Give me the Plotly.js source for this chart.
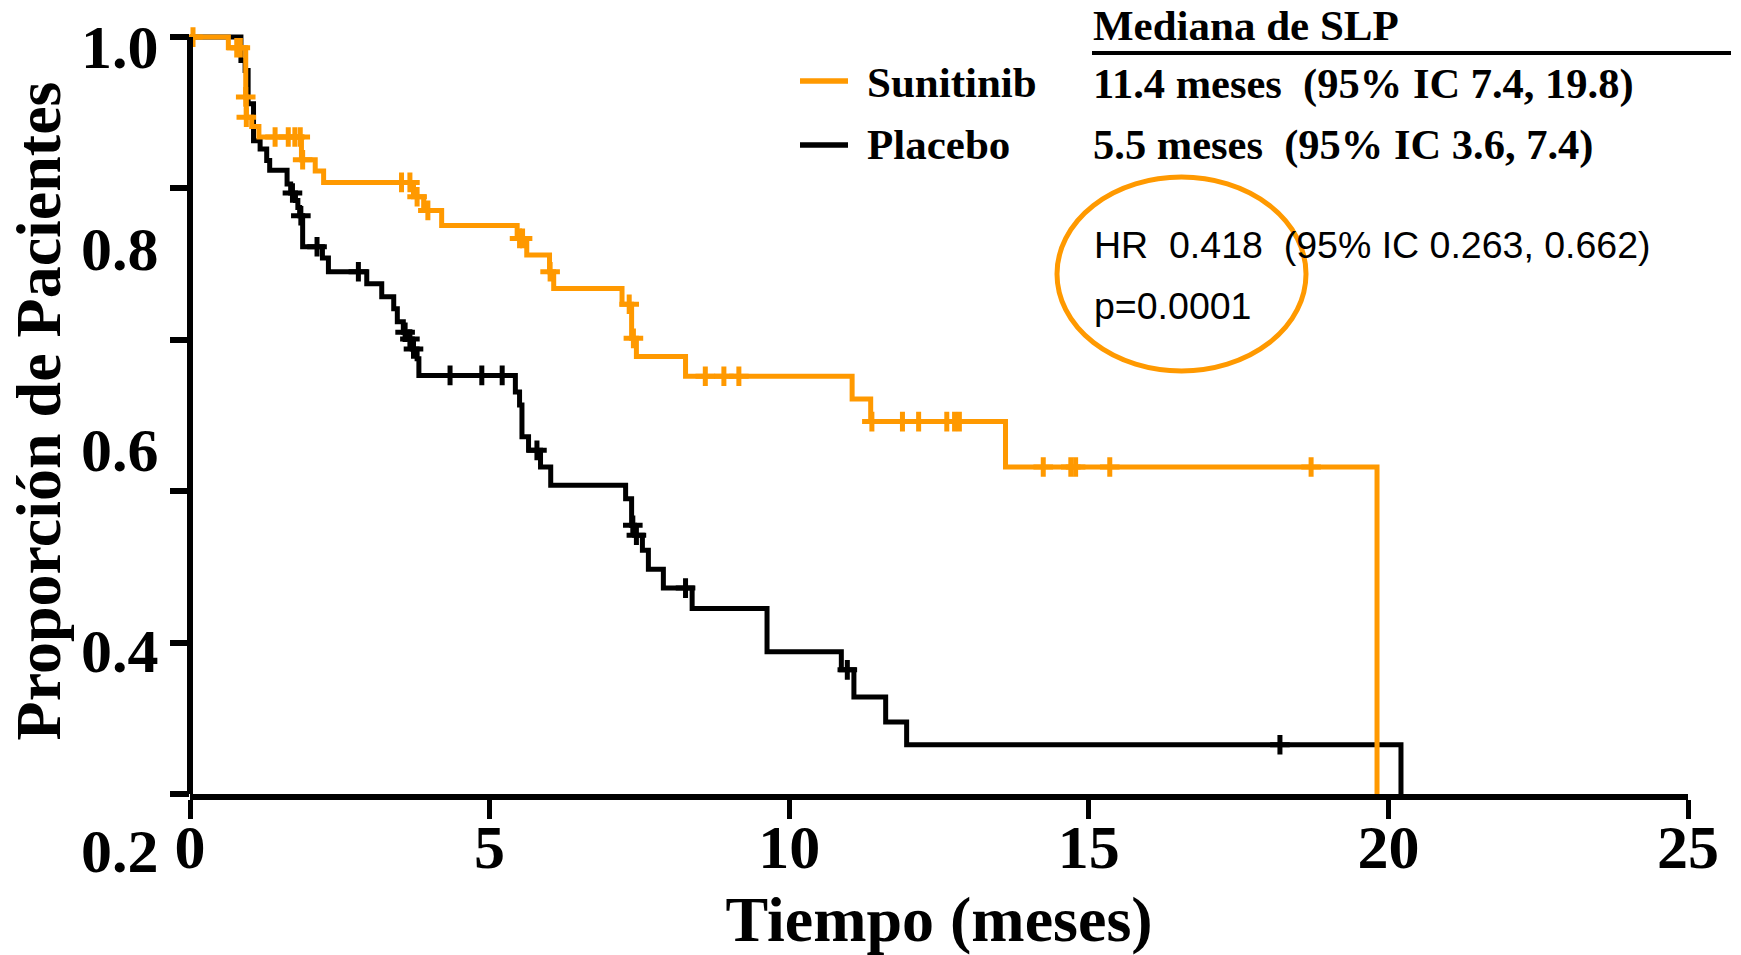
<!DOCTYPE html>
<html><head><meta charset="utf-8">
<script src="https://cdn.plot.ly/plotly-3.0.1.min.js"></script>
<style>html,body{margin:0;padding:0;background:#fff;}#chart{width:1741px;height:955px;}</style>
</head><body><div id="chart"></div>
<script>
// ---- data ----
const seriesNames = ['Sunitinib', 'Placebo'];
const sunitinibTimes = [0, 0.64, 0.93, 0.94, 1.03, 1.15, 1.86, 2.09, 2.23, 3.73, 3.90, 4.20, 5.46, 5.62, 6.00, 6.07, 7.21, 7.37, 7.45, 8.27, 11.05, 11.36, 13.61, 19.81];
const sunitinibSurv  = [1.0, 0.986, 0.921, 0.894, 0.882, 0.868, 0.838, 0.823, 0.808, 0.789, 0.771, 0.751, 0.734, 0.712, 0.690, 0.668, 0.647, 0.602, 0.578, 0.552, 0.522, 0.492, 0.432, 0.0];
const sunitinibCensor = [0.05, 0.78, 0.84, 0.93, 0.94, 1.42, 1.64, 1.75, 1.84, 1.88, 3.53, 3.67, 3.79, 3.97, 5.50, 5.55, 6.01, 7.33, 7.40, 8.60, 8.91, 9.16, 11.38, 11.89, 12.16, 12.63, 12.76, 12.84, 14.24, 14.70, 14.78, 15.35, 18.71];
const placeboTimes = [0, 0.85, 0.92, 0.97, 1.06, 1.17, 1.28, 1.33, 1.62, 1.68, 1.76, 1.80, 1.83, 1.88, 2.21, 2.31, 2.95, 3.20, 3.40, 3.46, 3.56, 3.63, 3.71, 3.79, 3.82, 5.43, 5.50, 5.54, 5.65, 5.85, 6.02, 7.27, 7.37, 7.42, 7.55, 7.65, 7.90, 8.38, 9.63, 10.87, 11.08, 11.61, 11.96, 20.21];
const placeboSurv  = [1.0, 0.969, 0.956, 0.912, 0.863, 0.852, 0.837, 0.824, 0.806, 0.794, 0.784, 0.775, 0.764, 0.723, 0.708, 0.690, 0.674, 0.657, 0.641, 0.624, 0.610, 0.601, 0.588, 0.575, 0.553, 0.531, 0.514, 0.472, 0.454, 0.432, 0.408, 0.390, 0.355, 0.342, 0.322, 0.297, 0.272, 0.245, 0.188, 0.164, 0.128, 0.095, 0.065, 0.0];
const placeboCensor = [1.71, 1.85, 2.12, 2.81, 3.59, 3.67, 3.73, 4.34, 4.87, 5.21, 5.79, 7.39, 7.45, 8.27, 10.97, 18.19];
const xTickVals = [0, 5, 10, 15, 20, 25];
const yTickVals = [0, 0.2, 0.4, 0.6, 0.8, 1.0];
const yTickLabels = ['1.0', '0.8', '0.6', '0.4', '0.2'];
const xTitle = 'Tiempo (meses)';
const yTitle = 'Proporción de Pacientes';
const medianHeader = 'Mediana de SLP';
const medianTexts = ['11.4 meses  (95% IC 7.4, 19.8)', '5.5 meses  (95% IC 3.6, 7.4)'];
const hrText = 'HR  0.418  (95% IC 0.263, 0.662)';
const pText = 'p=0.0001';

// ---- styling / layout ----
const ORANGE = '#FF9900', BLACK = '#000000';
const SERIF = 'Liberation Serif, Times New Roman, serif';
const SANS = 'Liberation Sans, Arial, sans-serif';
const W = 1741, H = 955, L = 190, R = 53, T = 28, B = 161;
const Y_MAX = 1.012;
const plotW = W - L - R, plotH = H - T - B;
const px = x => (x - L) / plotW;
const py = y => (H - B - y) / plotH;
const sp = s => s.replace(/  /g, ' \u00A0');

function survAt(times, surv, t) {
  let v = surv[0];
  for (let i = 0; i < times.length; i++) { if (times[i] <= t) v = surv[i]; }
  return v;
}
function kmTraces(name, times, surv, censor, color) {
  return [
    {x: times, y: surv, mode: 'lines', line: {shape: 'hv', color: color, width: 5}, name: name, showlegend: false, hoverinfo: 'skip'},
    {x: censor, y: censor.map(t => survAt(times, surv, t)), mode: 'markers', cliponaxis: false, showlegend: false, hoverinfo: 'skip',
     marker: {symbol: 'cross-thin', size: 14, color: color, line: {color: color, width: 5}}}
  ];
}
const data = [
  ...kmTraces(seriesNames[1], placeboTimes, placeboSurv, placeboCensor, BLACK),
  ...kmTraces(seriesNames[0], sunitinibTimes, sunitinibSurv, sunitinibCensor, ORANGE)
];

const textFont = (size, bold, fam) => ({family: fam || SERIF, size: size, color: BLACK, weight: bold ? 'bold' : 'normal'});
const annotations = [];
yTickLabels.forEach((lab, i) => {
  annotations.push({text: lab, xref: 'paper', yref: 'paper', x: px(161), y: py(47.5 + 201 * i), xanchor: 'right', yanchor: 'middle', showarrow: false, font: textFont(62, true)});
});
annotations.push({text: medianHeader, xref: 'paper', yref: 'paper', x: px(1091), y: py(25), xanchor: 'left', yanchor: 'middle', showarrow: false, font: textFont(43, true)});
[83, 144].forEach((yy, i) => {
  annotations.push({text: seriesNames[i], xref: 'paper', yref: 'paper', x: px(865), y: py(yy), xanchor: 'left', yanchor: 'middle', showarrow: false, font: textFont(43, true)});
  annotations.push({text: sp(medianTexts[i]), xref: 'paper', yref: 'paper', x: px(1091), y: py(yy + 1), xanchor: 'left', yanchor: 'middle', showarrow: false, font: textFont(42.5, true)});
});
annotations.push({text: sp(hrText), xref: 'paper', yref: 'paper', x: px(1092), y: py(244.5), xanchor: 'left', yanchor: 'middle', showarrow: false, font: textFont(37.5, false, SANS)});
annotations.push({text: pText, xref: 'paper', yref: 'paper', x: px(1092), y: py(306), xanchor: 'left', yanchor: 'middle', showarrow: false, font: textFont(37.5, false, SANS)});

const shapes = [
  {type: 'line', xref: 'paper', yref: 'paper', x0: 0, x1: 0, y0: 0, y1: 1 / Y_MAX, line: {color: BLACK, width: 6}},
  {type: 'line', xref: 'paper', yref: 'paper', x0: px(1092), x1: px(1731), y0: py(53), y1: py(53), line: {color: BLACK, width: 4}},
  {type: 'line', xref: 'paper', yref: 'paper', x0: px(800), x1: px(848), y0: py(81), y1: py(81), line: {color: ORANGE, width: 5.5}},
  {type: 'line', xref: 'paper', yref: 'paper', x0: px(800), x1: px(848), y0: py(145), y1: py(145), line: {color: BLACK, width: 5.5}},
  {type: 'circle', xref: 'paper', yref: 'paper', x0: px(1057), x1: px(1306), y0: py(371), y1: py(177), line: {color: ORANGE, width: 5}}
];

const layout = {
  width: W, height: H,
  margin: {l: L, r: R, t: T, b: B},
  paper_bgcolor: '#ffffff', plot_bgcolor: '#ffffff',
  showlegend: false,
  xaxis: {
    range: [0, 25], tickvals: xTickVals, ticktext: xTickVals.map(String),
    ticks: 'outside', ticklen: 19, tickwidth: 5, tickcolor: BLACK,
    showline: true, linewidth: 6, linecolor: BLACK, showgrid: false, zeroline: false,
    tickfont: textFont(62, true), ticklabelstandoff: -25,
    title: {text: xTitle, font: textFont(64, true), standoff: 28}
  },
  yaxis: {
    range: [0, Y_MAX], tickvals: yTickVals, showticklabels: false,
    ticks: 'outside', ticklen: 19, tickwidth: 6, tickcolor: BLACK,
    showline: false, showgrid: false, zeroline: false,
    title: {text: yTitle, font: textFont(64, true), standoff: 88}
  },
  annotations: annotations,
  shapes: shapes
};
Plotly.newPlot('chart', data, layout, {displayModeBar: false, staticPlot: true});
</script>
</body></html>
